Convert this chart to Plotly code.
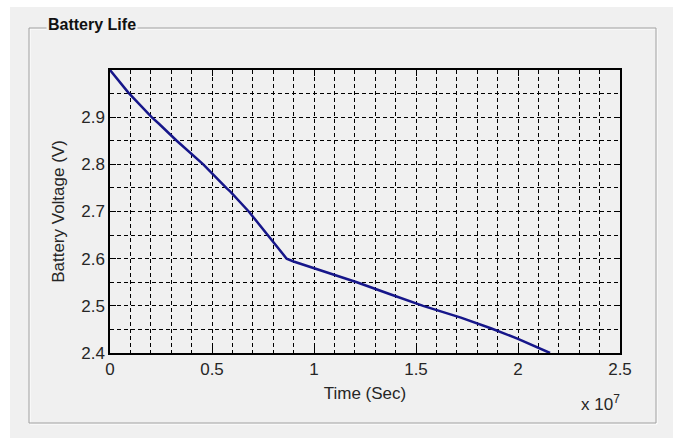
import plotly.graph_objects as go

# Data (time in units of 1e7 s, voltage in V)
time_1e7 = [0.0, 0.09, 0.204, 0.24, 0.327, 0.457, 0.57, 0.59, 0.68, 0.775, 0.866,
            0.9, 1.0, 1.1, 1.21, 1.37, 1.535, 1.72, 1.87, 2.0, 2.157]
voltage = [3.0, 2.952, 2.9, 2.886, 2.85, 2.8, 2.75, 2.742, 2.7, 2.65, 2.6,
           2.594, 2.58, 2.566, 2.55, 2.525, 2.5, 2.475, 2.452, 2.43, 2.4]
time_sec = [t * 1e7 for t in time_1e7]

x_tick_vals = [0, 0.5e7, 1e7, 1.5e7, 2e7, 2.5e7]
x_tick_text = ["0", "0.5", "1", "1.5", "2", "2.5"]
y_tick_vals = [2.4, 2.5, 2.6, 2.7, 2.8, 2.9]
y_tick_text = ["2.4", "2.5", "2.6", "2.7", "2.8", "2.9"]

W, H = 673, 438
L, R, T, B = 110, 53, 70, 85
PW, PH = W - L - R, H - T - B


def px(x):
    return (x - L) / PW


def py(y):
    return (H - B - y) / PH


FONT = "Liberation Sans, Arial, sans-serif"
TXT = "#262626"

fig = go.Figure()
fig.add_trace(go.Scatter(x=time_sec, y=voltage, mode="lines",
                         line=dict(color="#16168a", width=2.5), hoverinfo="skip",
                         showlegend=False))

axis_common = dict(
    showline=True, linecolor="black", linewidth=1.5, mirror="ticks",
    ticks="inside", ticklen=6, tickcolor="black",
    showgrid=True, gridcolor="black", gridwidth=1, griddash="4px,3px",
    zeroline=False,
    tickfont=dict(family=FONT, size=17, color=TXT),
)

fig.update_xaxes(
    range=[0, 2.5e7], tickmode="array", tickvals=x_tick_vals, ticktext=x_tick_text,
    minor=dict(dtick=0.1e7, tick0=0, showgrid=True, gridcolor="black", gridwidth=1,
               griddash="4px,3px", ticklen=0),
    title=dict(text="Time (Sec)", font=dict(family=FONT, size=17, color=TXT), standoff=9),
    ticklabelstandoff=0,
    **axis_common,
)
fig.update_yaxes(
    range=[2.4, 3.0], tickmode="array", tickvals=y_tick_vals, ticktext=y_tick_text,
    minor=dict(dtick=0.05, tick0=2.4, showgrid=True, gridcolor="black", gridwidth=1,
               griddash="4px,3px", ticklen=0),
    title=dict(text="Battery Voltage (V)", font=dict(family=FONT, size=17, color=TXT), standoff=12),
    ticklabelstandoff=0,
    **axis_common,
)

shapes = [
    # gray window background
    dict(type="rect", xref="paper", yref="paper", x0=px(10), x1=px(W + 5), y0=py(7), y1=py(H + 5),
         fillcolor="#f0f0f0", line=dict(width=0), layer="below"),
    # panel etched border (white highlight + gray)
    dict(type="rect", xref="paper", yref="paper", x0=px(30), x1=px(657), y0=py(29), y1=py(424),
         line=dict(color="white", width=1), layer="below"),
    dict(type="rect", xref="paper", yref="paper", x0=px(29), x1=px(656), y0=py(28), y1=py(423),
         line=dict(color="#a0a0a0", width=1), layer="below"),
]

annotations = [
    dict(text="<b>Battery Life</b>", xref="paper", yref="paper", x=px(46), y=py(25),
         xanchor="left", yanchor="middle", showarrow=False, bgcolor="#f0f0f0",
         font=dict(family=FONT, size=16, color="#111"), borderpad=1),
    dict(text="x 10<sup>7</sup>", xref="paper", yref="paper", x=px(600), y=py(403),
         xanchor="center", yanchor="middle", showarrow=False,
         font=dict(family=FONT, size=17, color=TXT)),
]

fig.update_layout(
    width=W, height=H, margin=dict(l=L, r=R, t=T, b=B, autoexpand=False),
    paper_bgcolor="white", plot_bgcolor="white",
    shapes=shapes, annotations=annotations, showlegend=False,
)

fig.write_html("out.html", config={"displayModeBar": False},
               post_script="document.body.style.margin='0';")
